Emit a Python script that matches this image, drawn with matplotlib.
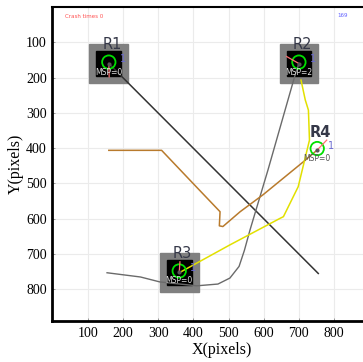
import matplotlib
matplotlib.use('Agg')
import matplotlib.pyplot as plt
from matplotlib.patches import Rectangle, Circle

# robots
robots = ['R1', 'R2', 'R3', 'R4']
robot_x = [160, 700, 360, 752]
robot_y = [160, 160, 752, 405]
msp = ['MSP=0', 'MSP=2', 'MSP=0', 'MSP=0']
has_box = [True, True, True, False]
head_x = [161, 665, 362, 779]
head_y = [198, 140, 722, 377]

# paths
black_x = [160, 755]
black_y = [160, 755]
gray_x = [155, 250, 305, 410, 470, 504, 530, 545, 561, 612, 689, 700]
gray_y = [753, 765, 779, 790, 785, 768, 735, 690, 632, 462, 193, 160]
brown_x = [160, 310, 410, 476, 474, 484, 533, 598, 712, 752]
brown_y = [406, 406, 511, 580, 620, 622, 580, 532, 439, 405]
yellow_x = [706, 718, 727, 730, 698, 656, 646, 504, 360]
yellow_y = [207, 263, 292, 377, 509, 594, 599, 674, 753]

fig = plt.figure(figsize=(3.63, 3.62), dpi=100)
ax = fig.add_axes([0.1446, 0.113, 0.931, 0.8674])
ax.set_xlim(0, 960)
ax.set_ylim(890, 0)

ax.set_xticks(range(100, 900, 100))
ax.set_yticks(range(100, 900, 100))
ax.grid(True, color='#ebebeb', lw=0.8)
ax.set_axisbelow(True)
ax.tick_params(direction='in', length=2, width=0.6, colors='#888888', labelcolor='black', labelsize=10, pad=4)
for lab in ax.get_xticklabels() + ax.get_yticklabels():
    lab.set_family('Liberation Serif')
ax.spines['left'].set_linewidth(2)
ax.spines['bottom'].set_linewidth(2)
ax.spines['top'].set_linewidth(1.5)
ax.spines['right'].set_visible(False)
ax.set_xlabel('X(pixels)', family='Liberation Serif', fontsize=11.5, labelpad=2)
ax.set_ylabel('Y(pixels)', family='Liberation Serif', fontsize=11.5, labelpad=2)

# robot boxes
for i in range(len(robots)):
    if has_box[i]:
        ax.add_patch(Rectangle((robot_x[i] - 55, robot_y[i] - 55), 110, 110, color='#808080', zorder=2))
        ax.add_patch(Rectangle((robot_x[i] - 35, robot_y[i] - 35), 70, 70, color='black', zorder=3))

ax.plot(black_x, black_y, color='#333333', lw=1.1, zorder=4)
ax.plot(gray_x, gray_y, color='#6a6a6a', lw=1.0, zorder=4)
ax.plot(brown_x, brown_y, color='#b87a2c', lw=1.1, zorder=4)
ax.plot(yellow_x, yellow_y, color='#e2e000', lw=1.1, zorder=4)

for i in range(len(robots)):
    cx, cy = robot_x[i], robot_y[i]
    ax.add_patch(Circle((cx, cy - 4), 19, fill=False, ec='#00e000', lw=1.3, zorder=5))
    ax.plot([cx, head_x[i]], [cy, head_y[i]], color='#ff7070', lw=0.9, zorder=6)
    ax.plot(cx, cy, marker='o', ms=2, color='#555555', zorder=6)
    ax.text(cx + 10, cy - (49 if not has_box[i] else 55), robots[i], fontsize=10.5, color='#353848',
            ha='center', va='center', zorder=7,
            fontweight='bold' if not has_box[i] else 'normal')
    ax.text(cx + 40, cy - 12, '1', fontsize=7, color='#6a6ad0', ha='center', va='center', zorder=7)
    ax.text(cx, cy + 24, msp[i], fontsize=5.5, color='#dddddd' if has_box[i] else '#555555',
            ha='center', va='center', zorder=7)

ax.text(35, 28, 'Crash times 0', fontsize=4, color='#ff5050', va='center', zorder=7)
ax.text(808, 23, '169', fontsize=4, color='#6060ff', va='center', zorder=7)

fig.savefig('out.png', dpi=100)
